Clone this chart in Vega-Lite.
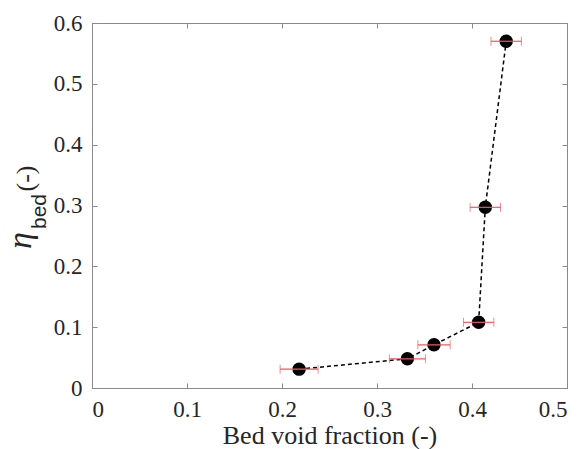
{
  "$schema": "https://vega.github.io/schema/vega-lite/v6.json",
  "autosize": {"type": "none"},
  "width": 475,
  "height": 365,
  "padding": {"left": 92, "top": 23, "right": 15, "bottom": 61},
  "background": "white",
  "config": {
    "font": "Liberation Serif",
    "view": {"stroke": "#8a8a8a", "strokeWidth": 1},
    "axis": {
      "domainColor": "#8a8a8a",
      "tickColor": "#8a8a8a",
      "tickSize": -5,
      "labelPadding": 15,
      "grid": false,
      "labelFont": "Liberation Serif",
      "labelFontSize": 23,
      "labelColor": "#262626",
      "titleFont": "Liberation Serif",
      "titleFontSize": 26,
      "titleFontWeight": "normal",
      "titleColor": "#262626"
    }
  },
  "data": {
    "values": [
      {"x": 0.218, "y": 0.031, "xlo": 0.198, "xhi": 0.238},
      {"x": 0.332, "y": 0.048, "xlo": 0.313, "xhi": 0.351},
      {"x": 0.360, "y": 0.071, "xlo": 0.343, "xhi": 0.377},
      {"x": 0.407, "y": 0.108, "xlo": 0.391, "xhi": 0.423},
      {"x": 0.414, "y": 0.297, "xlo": 0.398, "xhi": 0.430},
      {"x": 0.436, "y": 0.570, "xlo": 0.420, "xhi": 0.452}
    ]
  },
  "layer": [
    {
      "mark": {"type": "line", "color": "black", "strokeDash": [4, 3], "strokeWidth": 1.5},
      "encoding": {
        "x": {"field": "x", "type": "quantitative", "scale": {"domain": [0, 0.5], "nice": false},
              "axis": {"title": "Bed void fraction (-)", "values": [0, 0.1, 0.2, 0.3, 0.4, 0.5], "format": "~g", "titlePadding": 1, "labelFont": "Liberation Serif"}},
        "y": {"field": "y", "type": "quantitative", "scale": {"domain": [0, 0.6], "nice": false},
              "axis": {"title": "η", "titleFontStyle": "italic", "titleFontSize": 34, "values": [0, 0.1, 0.2, 0.3, 0.4, 0.5, 0.6], "format": "~g", "titleX": -55, "titleY": 217, "titleAlign": "center", "labelFont": "Liberation Serif"}},
        "order": {"field": "x", "type": "quantitative"}
      }
    },
    {
      "mark": {"type": "point", "filled": true, "color": "black", "size": 180, "opacity": 1},
      "encoding": {
        "x": {"field": "x", "type": "quantitative", "axis": null},
        "y": {"field": "y", "type": "quantitative", "axis": null}
      }
    },
    {
      "mark": {"type": "errorbar", "color": "#f05a5a", "ticks": {"size": 9, "color": "#f05a5a"}, "rule": {"strokeWidth": 1.2}},
      "encoding": {
        "x": {"field": "xlo", "type": "quantitative", "axis": null},
        "x2": {"field": "xhi"},
        "y": {"field": "y", "type": "quantitative", "axis": null}
      }
    },
    {
      "mark": {"type": "point", "opacity": 0},
      "encoding": {
        "x": {"field": "x", "type": "quantitative",
              "axis": {"orient": "top", "labels": false, "title": null, "domain": false, "values": [0, 0.1, 0.2, 0.3, 0.4, 0.5]}},
        "y": {"field": "y", "type": "quantitative",
              "axis": {"orient": "right", "labels": false, "title": null, "domain": false, "values": [0, 0.1, 0.2, 0.3, 0.4, 0.5, 0.6]}}
      }
    },
    {
      "mark": {"type": "point", "opacity": 0},
      "encoding": {
        "x": {"field": "x", "type": "quantitative", "axis": null},
        "y": {"field": "y", "type": "quantitative",
              "axis": {"orient": "left", "labels": false, "ticks": false, "domain": false, "title": "bed", "titleFont": "Liberation Sans", "titleFontSize": 21, "titleX": -43, "titleY": 188, "titleAlign": "center"}}
      }
    },
    {
      "mark": {"type": "point", "opacity": 0},
      "encoding": {
        "x": {"field": "x", "type": "quantitative", "axis": null},
        "y": {"field": "y", "type": "quantitative",
              "axis": {"orient": "left", "labels": false, "ticks": false, "domain": false, "title": "(-)", "titleFontSize": 26, "titleX": -54, "titleY": 155, "titleAlign": "center"}}
      }
    }
  ],
  "resolve": {"axis": {"x": "independent", "y": "independent"}}
}
